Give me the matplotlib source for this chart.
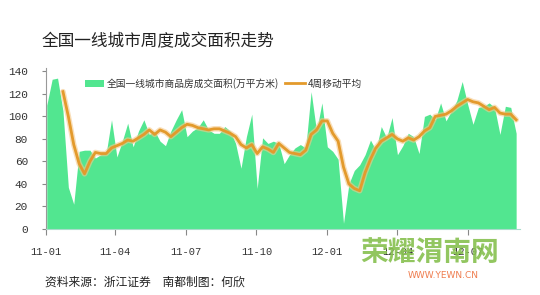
import numpy as np
import pandas as pd
import matplotlib.pyplot as plt

plt.rcParams['font.family'] = ['Noto Sans CJK SC', 'DejaVu Sans']

# weekly deals, first-tier cities (10k m2)
weeks = pd.date_range("2011-01-02", periods=88, freq="7D")
area = [110, 133, 134, 105, 37, 22, 69, 70, 70, 63,
        66, 67, 97, 64, 78, 94, 73, 87, 97, 84,
        87, 78, 74, 87, 97, 106, 82, 87, 90, 97,
        88, 85, 85, 91, 87, 76, 54, 82, 102, 36,
        81, 76, 78, 76, 58, 66, 72, 75, 72, 122,
        87, 112, 73, 69, 62, 5, 40, 52, 57, 66,
        79, 70, 91, 81, 99, 66, 74, 85, 82, 67,
        100, 102, 97, 112, 96, 105, 114, 131, 111, 93,
        108, 109, 112, 108, 84, 109, 108, 85]
# 4-week moving average as drawn in the source chart
ma4 = [np.nan, np.nan, np.nan, 122, 100, 75, 58, 49, 60, 68,
       67, 67, 72, 74, 76, 79, 78, 81, 84, 88,
       84, 88, 86, 82, 86, 90, 93, 92, 90, 89,
       88, 89, 89, 87, 85, 82, 75, 72, 75, 67,
       73, 71, 68, 76, 72, 68, 67, 66, 70, 84,
       88, 96, 96, 85, 78, 55, 40, 36, 34, 50,
       62, 72, 78, 81, 84, 80, 78, 81, 79, 82,
       87, 90, 100, 101, 102, 105, 109, 112, 115, 113,
       112, 109, 106, 108, 103, 102, 102, 97]

tick_dates = pd.to_datetime(["2011-01-01", "2011-04-01", "2011-07-01", "2011-10-01",
                             "2012-01-01", "2012-04-01", "2012-07-01"])
tick_labels = ["11-01", "11-04", "11-07", "11-10", "12-01", "12-04", "12-07"]
yticks = [0, 20, 40, 60, 80, 100, 120, 140]

fig = plt.figure(figsize=(5.4, 2.95), dpi=100)
ax = fig.add_axes([46 / 540, 1 - 229 / 295, (520 - 46) / 540, (229 - 68) / 295])

ax.fill_between(weeks, area, 0, color="#52e690", linewidth=0,
                label="全国一线城市商品房成交面积(万平方米)")
ax.plot(weeks, ma4, color="#f5c98a", lw=4.0, alpha=0.6, solid_capstyle="round")
ax.plot(weeks, ma4, color="#e39a2c", lw=2.0, label="4周移动平均")

ax.set_xlim(pd.Timestamp("2011-01-01"), pd.Timestamp("2012-09-07"))
ax.set_ylim(0, 143)
ax.set_yticks(yticks)
ax.set_yticklabels([str(v) for v in yticks], family="Liberation Mono", fontsize=8, color="#333333")
ax.set_xticks(tick_dates)
ax.set_xticklabels(tick_labels, family="Liberation Mono", fontsize=7.5, color="#333333")
ax.tick_params(axis="x", length=4, pad=9, color="#888888")
ax.tick_params(axis="y", length=3, pad=10, color="#888888")
for s in ["top", "right"]:
    ax.spines[s].set_visible(False)
ax.spines["left"].set_color("#999999")
ax.spines["bottom"].set_color("#a9dccb")

fig.legend(loc="upper left", bbox_to_anchor=(76 / 540, 1 - 69 / 295), ncol=2, frameon=False,
           fontsize=7, handlelength=2.0, handletextpad=0.3, columnspacing=0.6,
           labelcolor="#333333")

fig.text(42 / 540, 1 - 42 / 295, "全国一线城市周度成交面积走势", fontsize=12,
         color="#222222", va="center")
fig.text(45 / 540, 1 - 282 / 295, "资料来源：浙江证券　南都制图：何欣", fontsize=8.5,
         color="#222222", va="center")

# watermark
fig.text(360 / 540, 1 - 253 / 295, "荣耀渭南网", fontsize=20, fontweight="bold",
         color="#86c04f", alpha=0.9, va="center")
fig.text(408 / 540, 1 - 276 / 295, "WWW.YEWN.CN", fontsize=6.5, color="#ef7d4f",
         va="center", family="DejaVu Sans")

fig.savefig("out.png", dpi=100)
